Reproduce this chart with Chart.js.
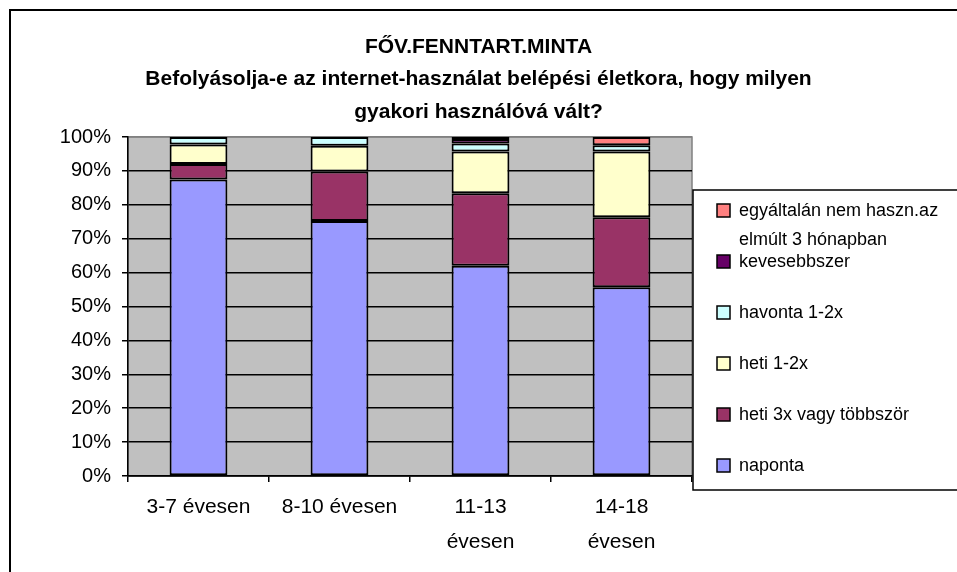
<!DOCTYPE html>
<html><head><meta charset="utf-8">
<script src="https://cdn.jsdelivr.net/npm/chart.js@4"></script>
<style>html,body{margin:0;padding:0;background:#fff;} canvas{display:block;}</style>
</head><body>
<canvas id="c" width="957" height="572"></canvas>
<script>
const titleLines = ['FŐV.FENNTART.MINTA', 'Befolyásolja-e az internet-használat belépési életkora, hogy milyen', 'gyakori használóvá vált?'];
const categories = [['3-7 évesen'], ['8-10 évesen'], ['11-13', 'évesen'], ['14-18', 'évesen']];
const seriesNames = [['naponta'], ['heti 3x vagy többször'], ['heti 1-2x'], ['havonta 1-2x'], ['kevesebbszer'], ['egyáltalán nem haszn.az', 'elmúlt 3 hónapban']];
const naponta = [87.5, 75.2, 62.0, 55.7];
const heti3x = [4.5, 14.6, 21.4, 20.6];
const heti12 = [5.8, 7.6, 12.3, 19.4];
const havonta = [2.2, 2.6, 2.4, 1.9];
const kevesebbszer = [0, 0, 1.3, 0];
const egyaltalan = [0, 0, 0.6, 2.4];
const yTickValues = [0, 10, 20, 30, 40, 50, 60, 70, 80, 90, 100];
const seriesColors = ['#9999FF', '#993366', '#FFFFCC', '#CCFFFF', '#660066', '#FF8080'];
const seriesValues = [naponta, heti3x, heti12, havonta, kevesebbszer, egyaltalan];

const FONT = "'Liberation Sans', Arial, sans-serif";
Chart.defaults.font.family = FONT;
Chart.defaults.color = '#000';

const frameAndPlot = {
  id: 'frameAndPlot',
  beforeDraw(chart) {
    const ctx = chart.ctx, a = chart.chartArea;
    ctx.save();
    ctx.fillStyle = '#fff';
    ctx.fillRect(0, 0, chart.width, chart.height);
    ctx.strokeStyle = '#000';
    ctx.lineWidth = 2;
    ctx.beginPath();
    ctx.moveTo(10, chart.height + 2);
    ctx.lineTo(10, 10);
    ctx.lineTo(chart.width + 2, 10);
    ctx.stroke();
    ctx.fillStyle = '#C0C0C0';
    ctx.fillRect(a.left, a.top, a.right - a.left, a.bottom - a.top);
    ctx.strokeStyle = '#808080';
    ctx.lineWidth = 1.5;
    ctx.strokeRect(a.left, a.top, a.right - a.left, a.bottom - a.top);
    ctx.restore();
  }
};

const boxLegend = {
  id: 'boxLegend',
  afterDraw(chart) {
    const ctx = chart.ctx;
    ctx.save();
    ctx.fillStyle = '#fff';
    ctx.fillRect(693, 190, 270, 300);
    ctx.strokeStyle = '#000';
    ctx.lineWidth = 1.5;
    ctx.strokeRect(693, 190, 270, 300);
    ctx.font = '18px ' + FONT;
    ctx.textBaseline = 'middle';
    ctx.textAlign = 'left';
    const ds = chart.data.datasets.slice().reverse();
    ds.forEach((d, i) => {
      const y = 211 + i * 51;
      ctx.fillStyle = d.backgroundColor;
      ctx.fillRect(717, y - 7, 13, 13);
      ctx.strokeStyle = '#000';
      ctx.lineWidth = 1.5;
      ctx.strokeRect(717, y - 7, 13, 13);
      ctx.fillStyle = '#000';
      d.legendLines.forEach((t, k) => ctx.fillText(t, 739, y + k * 29));
    });
    ctx.restore();
  }
};

new Chart(document.getElementById('c'), {
  type: 'bar',
  data: {
    labels: categories,
    datasets: seriesValues.map((vals, i) => ({
      label: seriesNames[i].join(' '),
      legendLines: seriesNames[i],
      data: vals,
      backgroundColor: seriesColors[i],
      borderColor: '#000',
      borderWidth: 2,
      borderSkipped: false,
      categoryPercentage: 1,
      barPercentage: 0.41
    }))
  },
  options: {
    responsive: false,
    animation: false,
    devicePixelRatio: 1,
    layout: { padding: { left: 0, right: 0, top: 0, bottom: 0 } },
    plugins: {
      legend: { display: false },
      tooltip: { enabled: false },
      title: {
        display: true,
        text: titleLines,
        color: '#000',
        font: { size: 21, weight: 'bold', lineHeight: 32.5 / 21 },
        padding: { top: 30.75, bottom: 8.75 }
      }
    },
    scales: {
      x: {
        stacked: true,
        offset: true,
        grid: { display: true, drawOnChartArea: false, drawTicks: true, tickLength: 6, color: '#000', lineWidth: 1.5 },
        border: { display: true, color: '#000', width: 1.5 },
        ticks: { color: '#000', font: { size: 21, lineHeight: 35 / 21 }, padding: 8, maxRotation: 0, autoSkip: false },
        afterFit: s => { s.height = 96; }
      },
      y: {
        stacked: true,
        min: 0,
        max: 100,
        afterBuildTicks: axis => { axis.ticks = yTickValues.map(v => ({ value: v })); },
        ticks: { color: '#000', font: { size: 20 }, padding: 11, callback: v => v + '%' },
        grid: { color: c => (c.tick && c.tick.value === 100) ? '#808080' : '#000', lineWidth: 1.5, tickLength: 6, tickColor: '#000' },
        border: { display: true, color: '#000', width: 1.5 },
        afterFit: s => { s.width = 128; }
      },
      legendSpace: {
        type: 'linear',
        position: 'right',
        display: true,
        min: 0,
        max: 100,
        grid: { display: false, drawTicks: false },
        border: { display: false },
        ticks: { display: false },
        afterFit: s => { s.width = 265; }
      }
    }
  },
  plugins: [frameAndPlot, boxLegend]
});
</script>
</body></html>
